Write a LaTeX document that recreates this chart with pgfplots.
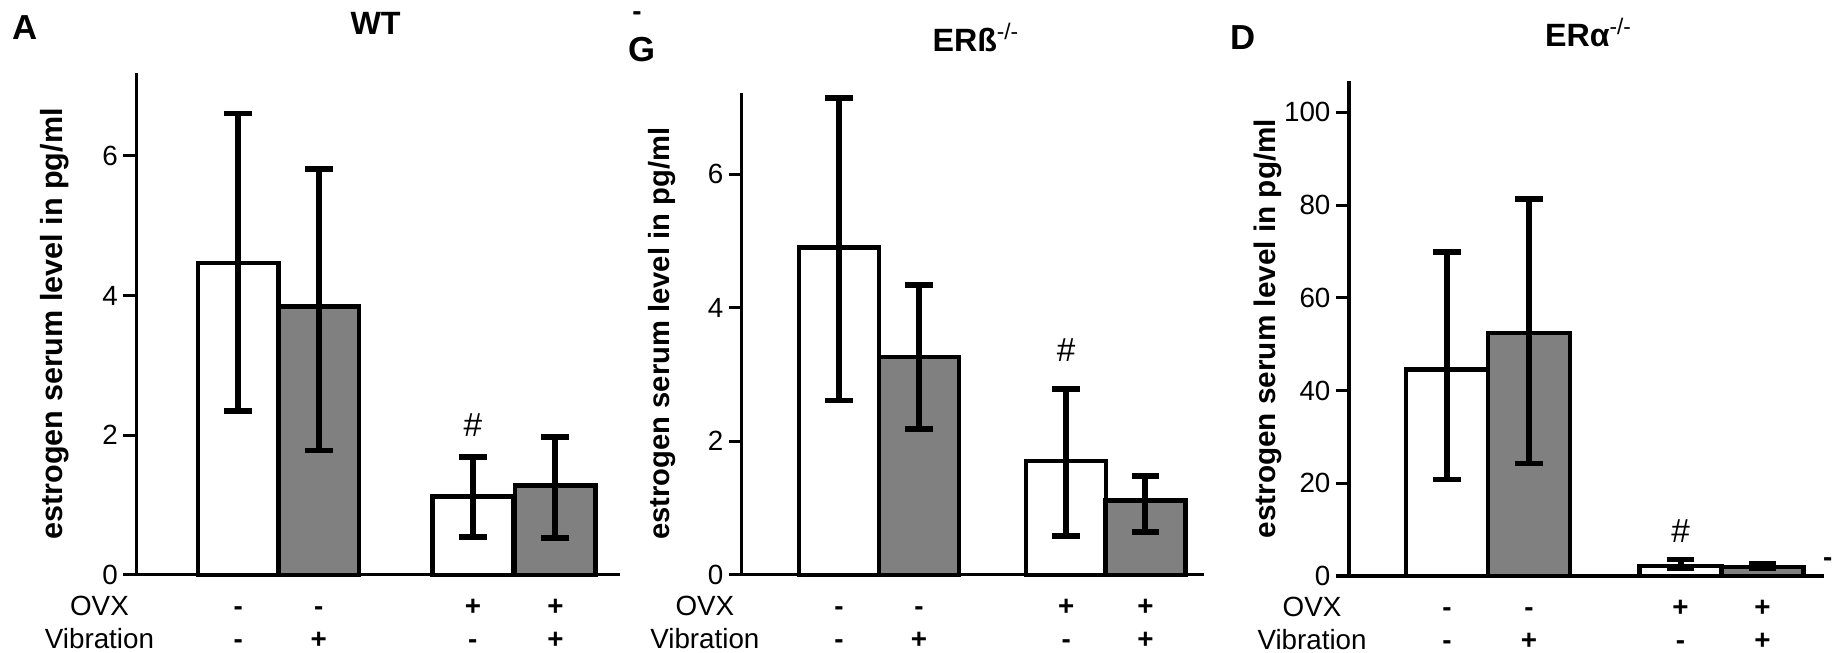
\documentclass[border=0pt]{standalone}
\usepackage{fontspec}
\setmainfont{Liberation Sans}
\usepackage{pgfplots}
\pgfplotsset{compat=1.18}
\definecolor{barg}{RGB}{128,128,128}
\newcommand{\m}{\textbf{-}}
\newcommand{\p}{\textbf{+}}
\pgfplotsset{
  panel/.style={
    scale only axis,
    axis x line*=bottom,
    axis y line*=left,
    axis line style={line width=1.2pt, black},
    ymin=0,
    ybar, bar width=1, bar shift=0pt,
    clip=false,
    tick align=outside,
    major tick length=4.7pt,
    ytick style={line width=1.1pt, black},
    xtick=\empty,
    /pgf/number format/assume math mode=true,
    yticklabel style={font=\fontsize{10}{12}\selectfont, inner sep=0pt, xshift=-1.8pt},
    every axis plot/.append style={draw=black, line width=1.6pt,
      error bars/y dir=both, error bars/y explicit,
      error bars/error bar style={line width=2.2pt, black},
      error bars/error mark options={rotate=90, mark size=5pt, line width=2pt, black}},
  },
}
% row labels and the +/- signs under each bar
\newcommand{\rowlabels}{%
  \node[anchor=base, font=\fontsize{10}{12}\selectfont] at ([xshift=-13.3pt, yshift=-14.5pt]rel axis cs:0,0) {OVX};
  \node[anchor=base, font=\fontsize{10}{12}\selectfont] at ([xshift=-13.3pt, yshift=-26.5pt]rel axis cs:0,0) {Vibration};
}
\newcommand{\signs}[3]{%
  \node[anchor=base, font=\fontsize{10}{12}\selectfont] at ([yshift=-14.5pt]axis cs:#1,0) {#2};
  \node[anchor=base, font=\fontsize{10}{12}\selectfont] at ([yshift=-26.5pt]axis cs:#1,0) {#3};
}
\begin{document}
\begin{tikzpicture}
\useasboundingbox (0,0) rectangle (659.88pt,235.08pt);

% ---------- Panel A: WT ----------
\begin{axis}[panel, at={(49.10pt,28.15pt)}, anchor=south west,
  width=174.1pt, height=180.7pt,
  xmin=-0.265, xmax=5.743, ymax=7.19,
  ytick={0,2,4,6},
  ylabel={\fontsize{11.0}{14}\selectfont\bfseries estrogen serum level in pg/ml},
  ylabel style={at={([xshift=-29.5pt]axis description cs:0,0.5)}, anchor=center},
]
\addplot[fill=white] coordinates {(1,4.47) += (0,2.14) -= (0,2.12) (3.915,1.12) += (0,0.57) -= (0,0.58)};
\addplot[fill=barg] coordinates {(2,3.84) += (0,1.97) -= (0,2.06) (4.94,1.28) += (0,0.69) -= (0,0.75)};
\node[font=\fontsize{12}{14}\selectfont] at (axis cs:3.915,2.15) {\#};
\rowlabels
\signs{1}{\m}{\m}\signs{2}{\m}{\p}\signs{3.915}{\p}{\m}\signs{4.94}{\p}{\p}
\end{axis}

% ---------- Panel G: ERb ----------
\begin{axis}[panel, at={(267.05pt,28.15pt)}, anchor=south west,
  width=166.4pt, height=173.6pt,
  xmin=-0.215, xmax=5.5625, ymax=7.22,
  ytick={0,2,4,6},
  ylabel={\fontsize{10.5}{14}\selectfont\bfseries estrogen serum level in pg/ml},
  ylabel style={at={([xshift=-28.9pt]axis description cs:0,0.5)}, anchor=center},
]
\addplot[fill=white] coordinates {(1,4.90) += (0,2.24) -= (0,2.29) (3.84,1.70) += (0,1.08) -= (0,1.12)};
\addplot[fill=barg] coordinates {(2,3.26) += (0,1.08) -= (0,1.08) (4.83,1.11) += (0,0.37) -= (0,0.47)};
\node[font=\fontsize{12}{14}\selectfont] at (axis cs:3.84,3.37) {\#};
\rowlabels
\signs{1}{\m}{\m}\signs{2}{\m}{\p}\signs{3.84}{\p}{\m}\signs{4.83}{\p}{\p}
\end{axis}

% ---------- Panel D: ERa ----------
\begin{axis}[panel, at={(485.64pt,27.72pt)}, anchor=south west,
  width=171pt, height=178.1pt,
  xmin=-0.195, xmax=5.6, ymax=106.7,
  ytick={0,20,40,60,80,100},
  ylabel={\fontsize{10.7}{14}\selectfont\bfseries estrogen serum level in pg/ml},
  ylabel style={at={([xshift=-29.2pt]axis description cs:0,0.5)}, anchor=center},
]
\addplot[fill=white] coordinates {(1,44.5) += (0,25.4) -= (0,23.7) (3.85,2.2) += (0,1.4) -= (0,0.5)};
\addplot[fill=barg] coordinates {(2,52.4) += (0,28.9) -= (0,28.1) (4.85,2.0) += (0,0.6) -= (0,0.4)};
\node[font=\fontsize{12}{14}\selectfont] at (axis cs:3.85,9.6) {\#};
\rowlabels
\signs{1}{\m}{\m}\signs{2}{\m}{\p}\signs{3.85}{\p}{\m}\signs{4.85}{\p}{\p}
\end{axis}

% ---------- titles and panel letters ----------
\node[anchor=base west, inner sep=0pt, font=\fontsize{12.5}{14}\selectfont\bfseries] at (4.3pt,220.8pt) {A};
\node[anchor=base west, inner sep=0pt, font=\fontsize{11.6}{14}\selectfont\bfseries] at (126pt,222.7pt) {WT};
\node[anchor=base west, inner sep=0pt, font=\fontsize{12.5}{14}\selectfont\bfseries] at (226.1pt,213pt) {G};
\node[anchor=center, inner sep=0pt, font=\fontsize{10}{12}\selectfont\bfseries] at (229.3pt,229.3pt) {-};
\node[anchor=base west, inner sep=0pt, font=\fontsize{11.6}{14}\selectfont] at (335.5pt,216.4pt) {\textbf{ERß}\textsuperscript{-/-}};
\node[anchor=base west, inner sep=0pt, font=\fontsize{12.5}{14}\selectfont\bfseries] at (442.7pt,217.1pt) {D};
\node[anchor=base west, inner sep=0pt, font=\fontsize{11.6}{14}\selectfont] at (556pt,218.2pt) {\textbf{ERα}\textsuperscript{-/-}};
\node[anchor=east, inner sep=0pt, font=\fontsize{10}{12}\selectfont\bfseries] at (659.88pt,32.8pt) {-};
\end{tikzpicture}
\end{document}
